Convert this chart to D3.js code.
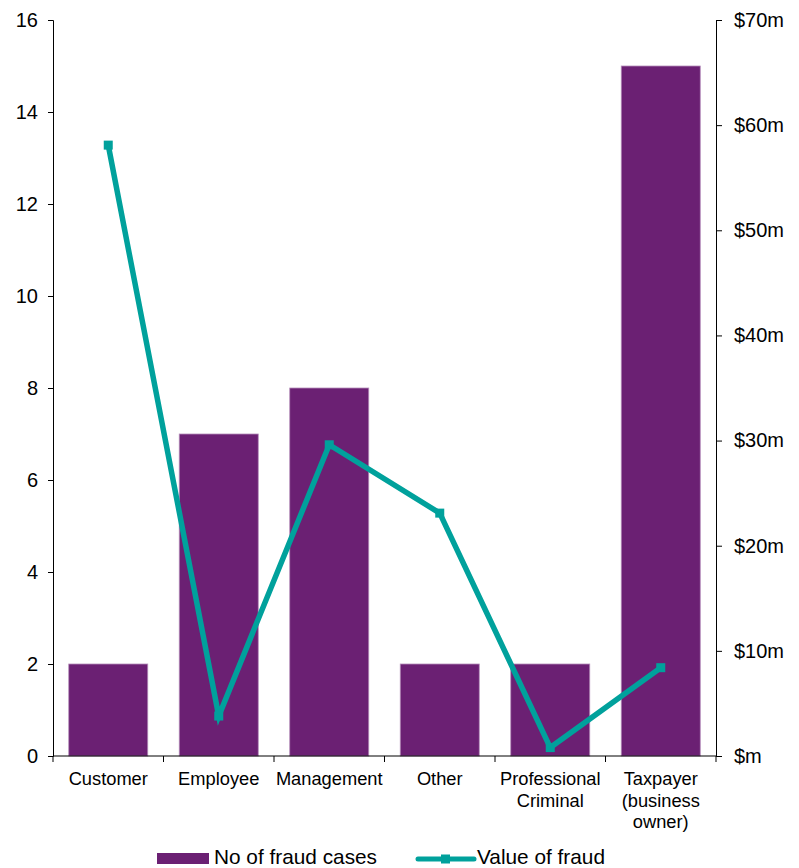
<!DOCTYPE html>
<meta charset="utf-8">
<style>
body { margin: 0; background: #fff; }
text { font-family: "Liberation Sans", Arial, sans-serif; fill: #000; }
</style>
<body>
<svg width="799" height="868"></svg>
<script src="https://cdn.jsdelivr.net/npm/d3@7"></script>
<script>
// chart data
var categories = [["Customer"], ["Employee"], ["Management"], ["Other"], ["Professional", "Criminal"], ["Taxpayer", "(business", "owner)"]];
var fraudCases = [2, 7, 8, 2, 2, 15];
var fraudValue = [58.1, 3.8, 29.6, 23.1, 0.8, 8.4];   // $m
var leftTicks = [0, 2, 4, 6, 8, 10, 12, 14, 16];
var rightTicks = [0, 10, 20, 30, 40, 50, 60, 70];

var svg = d3.select("svg"),
  margin = {top: 20, right: 83, bottom: 112, left: 53},
  width = +svg.attr("width") - margin.left - margin.right,
  height = +svg.attr("height") - margin.top - margin.bottom,
  g = svg.append("g").attr("transform", "translate(" + margin.left + "," + margin.top + ")");

var purple = "#6b2073", teal = "#00a19c";

var x = d3.scaleBand()
  .domain(d3.range(categories.length))
  .range([0, width])
  .paddingInner(0.285)
  .paddingOuter(0.1425);

var y = d3.scaleLinear().domain([0, 16]).range([height, 0]);
var y2 = d3.scaleLinear().domain([0, 70]).range([height, 0]);

// bars
g.selectAll(".bar")
  .data(fraudCases)
  .enter().append("rect")
  .attr("x", function(d, i) { return x(i); })
  .attr("y", function(d) { return y(d); })
  .attr("width", x.bandwidth())
  .attr("height", function(d) { return height - y(d); })
  .attr("fill", purple)
  .attr("stroke", "#b58dba")
  .attr("stroke-width", 0.8);

// line
var line = d3.line()
  .x(function(d, i) { return x(i) + x.bandwidth() / 2; })
  .y(function(d) { return y2(d); });

g.append("path")
  .datum(fraudValue)
  .attr("d", line)
  .attr("fill", "none")
  .attr("stroke", teal)
  .attr("stroke-width", 5.5)
  .attr("stroke-linejoin", "miter");

g.selectAll(".mk")
  .data(fraudValue)
  .enter().append("rect")
  .attr("x", function(d, i) { return x(i) + x.bandwidth() / 2 - 4.5; })
  .attr("y", function(d) { return y2(d) - 4.5; })
  .attr("width", 9)
  .attr("height", 9)
  .attr("fill", teal);

// left axis
var yAxis = d3.axisLeft(y).tickValues(leftTicks).tickSize(5).tickPadding(10);
var ga = g.append("g").call(yAxis);
ga.selectAll("text").style("font-size", "20px");

// right axis
var y2Axis = d3.axisRight(y2).tickValues(rightTicks).tickSize(6).tickPadding(12)
  .tickFormat(function(d) { return "$" + (d === 0 ? "" : d) + "m"; });
var gb = g.append("g").attr("transform", "translate(" + width + ",0)").call(y2Axis);
gb.selectAll("text").style("font-size", "20px");

// bottom axis with ticks between categories
var gx = g.append("g").attr("transform", "translate(0," + height + ")");
gx.append("line").attr("x1", 0).attr("x2", width).attr("stroke", "#000");
gx.selectAll(".tk")
  .data(d3.range(categories.length + 1))
  .enter().append("line")
  .attr("x1", function(i) { return i * x.step(); })
  .attr("x2", function(i) { return i * x.step(); })
  .attr("y1", 0).attr("y2", 6)
  .attr("stroke", "#000");

gx.selectAll(".lbl")
  .data(categories)
  .enter().append("text")
  .attr("text-anchor", "middle")
  .style("font-size", "18.3px")
  .attr("transform", function(d, i) { return "translate(" + (x(i) + x.bandwidth() / 2) + ",0)"; })
  .selectAll("tspan")
  .data(function(d) { return d; })
  .enter().append("tspan")
  .attr("x", 0)
  .attr("y", function(d, j) { return 29 + j * 21.5; })
  .text(function(d) { return d; });

// legend
var leg = svg.append("g");
leg.append("rect").attr("x", 157).attr("y", 853).attr("width", 52).attr("height", 11).attr("fill", purple);
leg.append("text").attr("x", 214).attr("y", 863.5).style("font-size", "20.8px").text("No of fraud cases");
leg.append("line").attr("x1", 418).attr("x2", 474).attr("y1", 859).attr("y2", 859)
  .attr("stroke", teal).attr("stroke-width", 5).attr("stroke-linecap", "round");
leg.append("rect").attr("x", 441).attr("y", 854.5).attr("width", 9).attr("height", 9).attr("fill", teal);
leg.append("text").attr("x", 477).attr("y", 863.5).style("font-size", "20.8px").text("Value of fraud");
</script>
</body>
